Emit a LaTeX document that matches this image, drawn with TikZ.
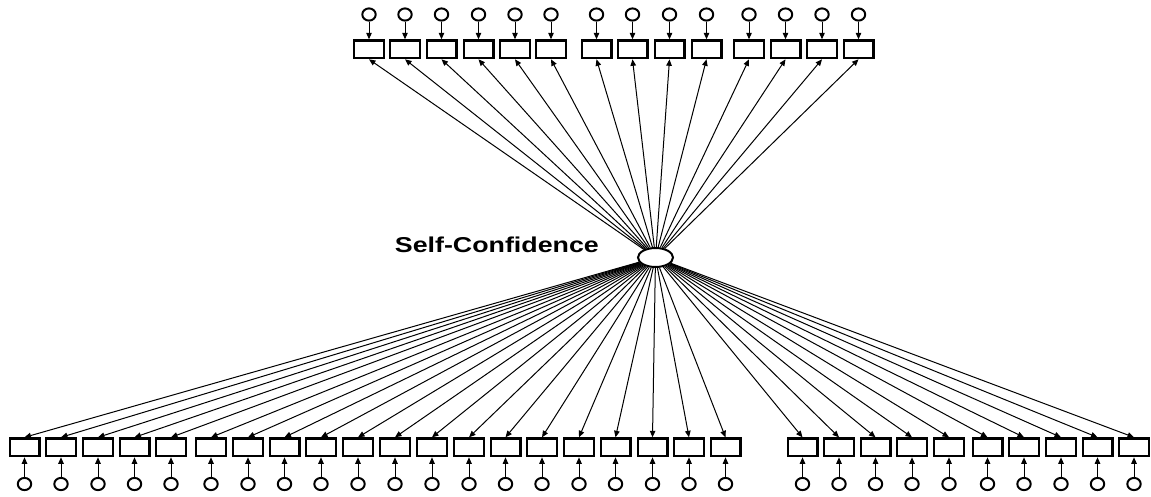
\documentclass[tikz,border=0pt]{standalone}
\usepackage{fontspec}
\setmainfont{Liberation Sans}
\usetikzlibrary{arrows.meta,shapes.geometric}
\begin{document}
\begin{tikzpicture}[x=1pt,y=-1pt,
  ind/.style={draw,rectangle,line width=2.3pt,minimum width=29.7pt,minimum height=17.7pt,inner sep=0pt},
  err/.style={draw,ellipse,line width=2pt,minimum width=13.4pt,minimum height=12.2pt,inner sep=0pt},
  lat/.style={draw,ellipse,line width=2pt,minimum width=35pt,minimum height=19pt,inner sep=0pt},
  load/.style={line width=1pt,-{Triangle[length=6.5pt,width=5.5pt]}},
  arr/.style={line width=1pt,-{Triangle[length=6.5pt,width=5.5pt]}},
  lbl/.style={font=\fontsize{21.5}{21.5}\selectfont\bfseries,inner sep=0pt}]
\useasboundingbox (0,0) rectangle (1151,496);
\node[lat] (F) at (655.5,257.5) {};
\node[lbl,anchor=base east] (L) at (599,252.5) {\scalebox{1.246}[1]{Self-Confidence}};
% top indicators
\foreach \x [count=\i] in {369,405,441.5,478.5,515,551,596.5,632.5,669.5,706.5,749,785.5,822,858.5}{
  \node[ind] (t\i) at (\x,49.3) {};
  \node[err] (et\i) at (\x,14.5) {};
  \draw[arr] (et\i) -- (t\i);
  \draw[load] (F) -- (t\i.south);
}
% bottom indicators
\foreach \x [count=\i] in {24.5,61,98,134.5,171,211,248,284.5,321,358,395,432,469,505.5,542,579,615.5,652.5,689,725.5,802.5,839,875.5,912,949,987.5,1024,1061,1097.5,1134}{
  \node[ind] (b\i) at (\x,447.3) {};
  \node[err] (eb\i) at (\x,484) {};
  \draw[arr] (eb\i) -- (b\i);
  \draw[load] (F) -- (b\i.north);
}
\end{tikzpicture}
\end{document}
